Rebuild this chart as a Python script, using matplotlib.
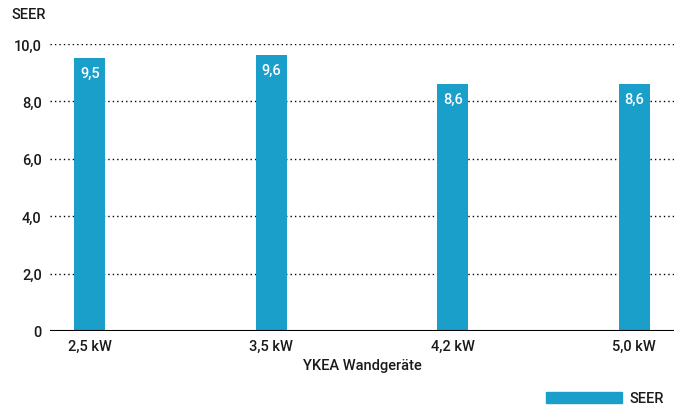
import matplotlib.pyplot as plt
from matplotlib.patches import Rectangle

# data
categories = ['2,5 kW', '3,5 kW', '4,2 kW', '5,0 kW']
seer = [9.5, 9.6, 8.6, 8.6]
value_labels = ['9,5', '9,6', '8,6', '8,6']
yticks = [0, 2, 4, 6, 8, 10]
ytick_labels = ['0', '2,0', '4,0', '6,0', '8,0', '10,0']

bar_color = '#199fca'
txt_color = '#1a1a1a'
fs = 10.5
fw = 'medium'
plt.rcParams['font.family'] = ['Roboto', 'DejaVu Sans']

fig = plt.figure(figsize=(6.84, 4.06), dpi=100)
ax = fig.add_axes([50 / 684, 1 - 332 / 406, 624 / 684, 287 / 406])

x = range(len(categories))
ax.bar(x, seer, width=0.17, color=bar_color, zorder=3)

# value labels inside the top of each bar
for i, (v, lab) in enumerate(zip(seer, value_labels)):
    ax.text(i, v - 0.27, lab, ha='center', va='top', color='white',
            fontsize=fs, fontweight=fw, zorder=4)

ax.set_xlim(-0.22, 3.22)
ax.set_ylim(0, 10)
ax.set_yticks(yticks)
ax.set_yticklabels(ytick_labels)
ax.set_xticks(list(x))
ax.set_xticklabels(categories)

# dotted gridlines
for y in yticks[1:]:
    ax.axhline(y, color='black', linestyle=(0, (1, 2.2)), linewidth=1, zorder=1)
ax.axhline(0, color='black', linewidth=1.5, zorder=5)

for s in ax.spines.values():
    s.set_visible(False)
ax.tick_params(length=0, labelsize=fs, colors=txt_color)
ax.tick_params(axis='y', pad=6)
ax.tick_params(axis='x', pad=6)
for lab in ax.get_xticklabels() + ax.get_yticklabels():
    lab.set_fontweight(fw)

fig.text(12 / 684, 1 - 15 / 406, 'SEER', fontsize=fs, fontweight=fw,
         va='center', ha='left', color=txt_color)
fig.text(362 / 684, 1 - 366 / 406, 'YKEA Wandgeräte', fontsize=fs,
         fontweight=fw, va='center', ha='center', color=txt_color)

# legend
fig.patches.append(Rectangle((546 / 684, 1 - 404 / 406), 76 / 684, 11 / 406,
                             transform=fig.transFigure, color=bar_color))
fig.text(629 / 684, 1 - 399 / 406, 'SEER', fontsize=fs, fontweight=fw,
         va='center', ha='left', color=txt_color)

fig.savefig('out.png', dpi=100)
